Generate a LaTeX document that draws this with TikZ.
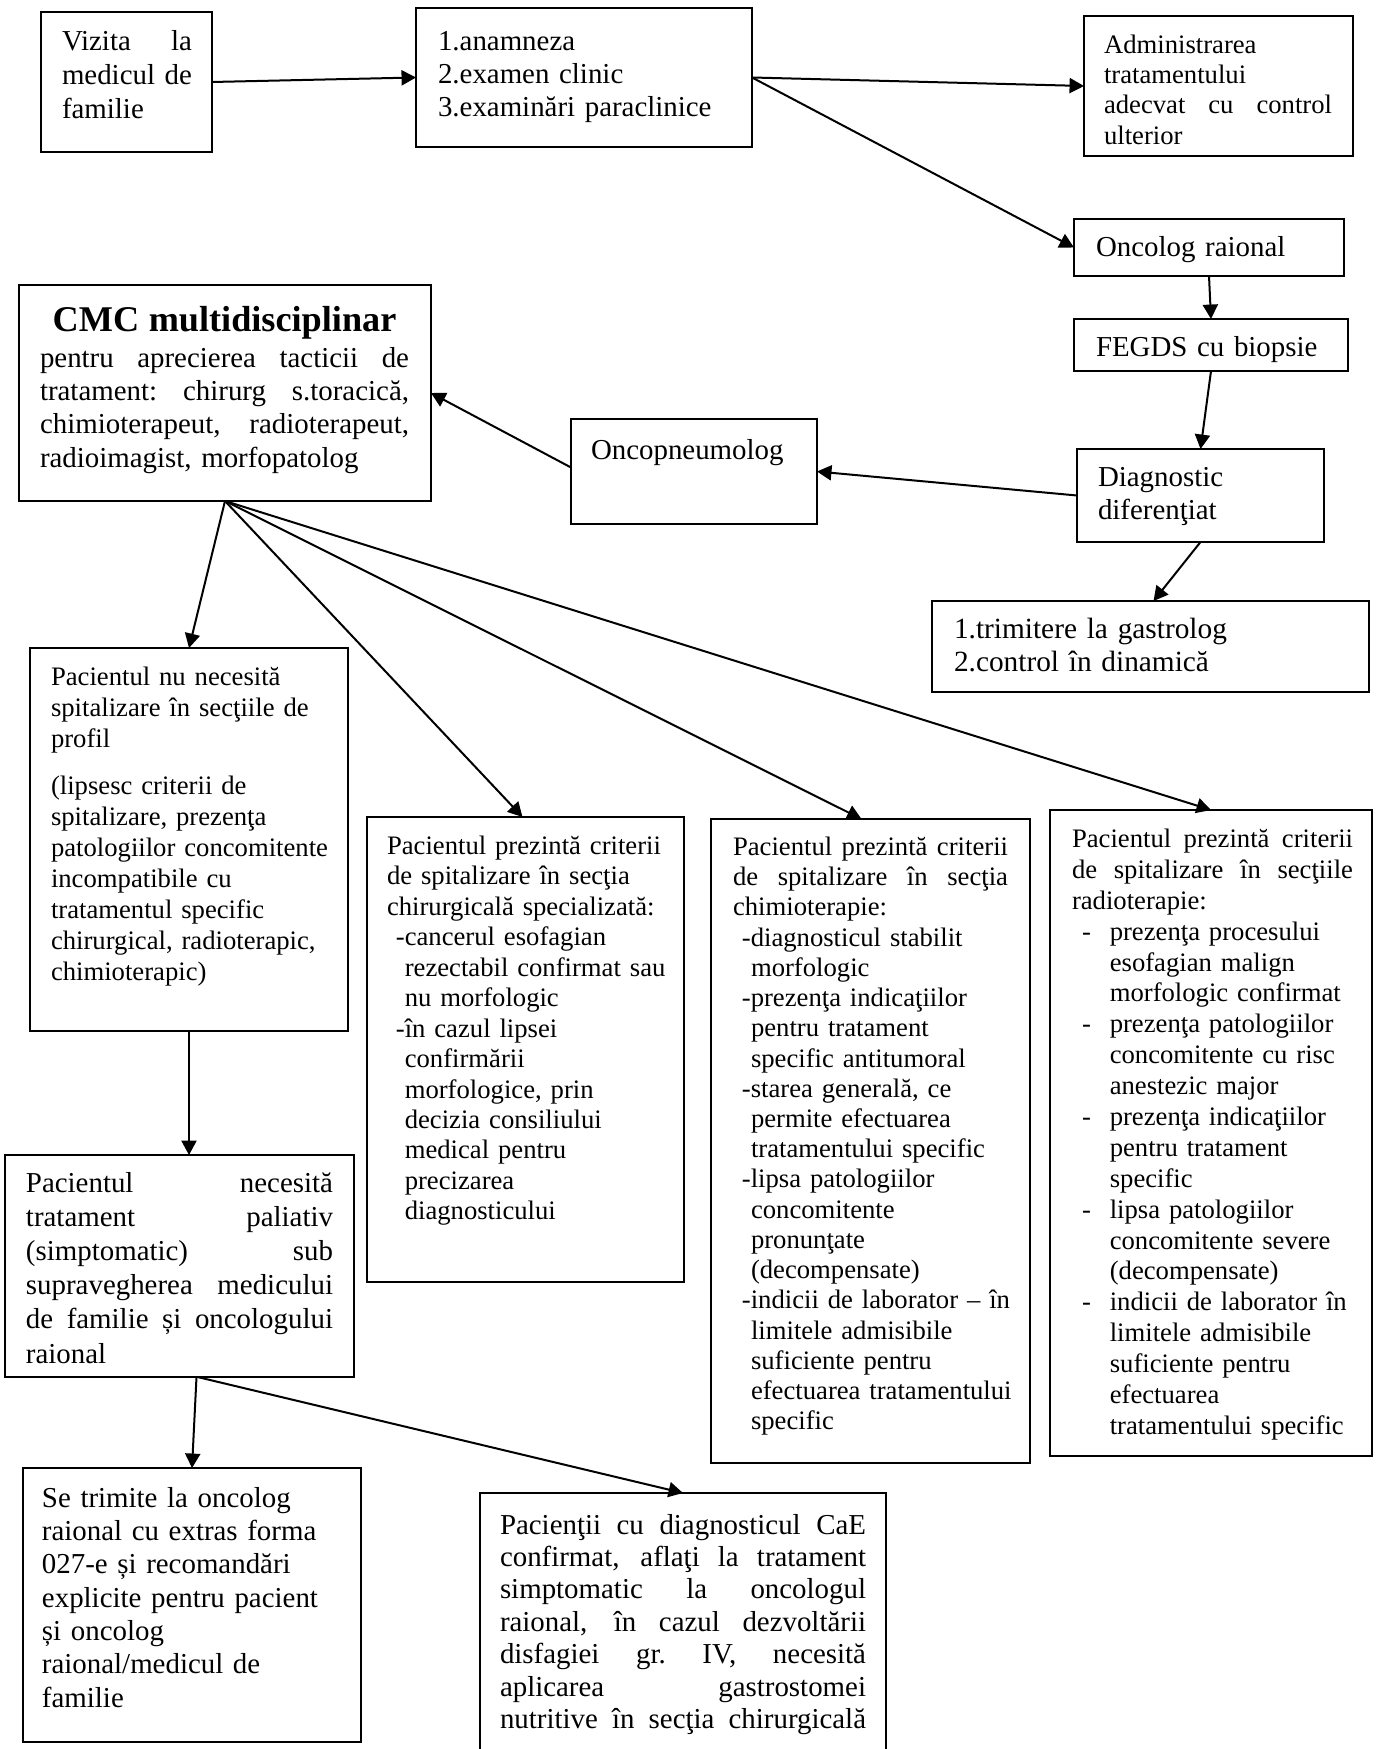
\documentclass[tikz,border=0pt]{standalone}
\usepackage{fontspec}
\setmainfont{Liberation Serif}
\usetikzlibrary{arrows.meta,calc}
\newlength\jw
\newcommand{\jbox}[1]{\leavevmode\hbox to\jw{\spaceskip=\fontdimen2\font plus 1fil\relax\xspaceskip=\spaceskip #1}}
\newcommand{\jl}[1]{\jbox{#1}\\}
\newcommand{\fs}[2]{\fontsize{#1}{#2}\selectfont}
\newcommand{\ritem}[1]{\makebox[17pt][l]{\hspace*{4.5pt}-}#1}
\newcommand{\rcont}[1]{\hspace*{17pt}#1}
\tikzset{
  bx/.style={draw, line width=0.7pt, anchor=north west, inner sep=0pt, outer sep=0pt},
  tx/.style={anchor=north west, inner sep=0pt, outer sep=0pt, align=left, text width=420*0.45pt},
  arr/.style={-{Triangle[length=6.5pt,width=6.8pt]}, line width=0.9pt},
}
\begin{document}
\begin{tikzpicture}[x=0.45pt, y=-0.45pt]
\useasboundingbox (0,0) rectangle (1376,1749);

% ---------- boxes ----------
\node[bx, minimum width=171*0.45pt, minimum height=140*0.45pt] (viz) at (41,12) {};
\node[tx, font=\fs{13}{15.3}] (viz-t) at ($(viz.north west)+(21,18)$)
 {\jw=58.5pt\relax\jl{Vizita la}medicul de\\familie};

\node[bx, minimum width=336*0.45pt, minimum height=139*0.45pt] (ana) at (416,8) {};
\node[tx, font=\fs{13}{14.85}] (ana-t) at ($(ana.north west)+(22,23)$)
 {1.anamneza\\2.examen clinic\\3.examinări paraclinice};

\node[bx, minimum width=269*0.45pt, minimum height=140*0.45pt] (adm) at (1084,16) {};
\node[tx, font=\fs{12}{13.6}] (adm-t) at ($(adm.north west)+(20,19)$)
 {\jw=102.6pt\relax Administrarea\\tratamentului\\\jl{adecvat cu control}ulterior};

\node[bx, minimum width=270*0.45pt, minimum height=57*0.45pt] (onc) at (1074,219) {};
\node[tx, font=\fs{13}{15}] (onc-t) at ($(onc.north west)+(22,17)$) {Oncolog raional};

\node[bx, minimum width=274*0.45pt, minimum height=52*0.45pt] (feg) at (1074,319) {};
\node[tx, font=\fs{13}{15}] (feg-t) at ($(feg.north west)+(22,17)$) {FEGDS cu biopsie};

\node[bx, minimum width=247*0.45pt, minimum height=93*0.45pt] (dia) at (1077,449) {};
\node[tx, font=\fs{13}{14.85}] (dia-t) at ($(dia.north west)+(21,18)$)
 {Diagnostic\\diferenţiat};

\node[bx, minimum width=437*0.45pt, minimum height=91*0.45pt] (tri) at (932,601) {};
\node[tx, font=\fs{13.2}{14.85}] (tri-t) at ($(tri.north west)+(22,17)$)
 {1.trimitere la gastrolog\\2.control în dinamică};

\node[bx, minimum width=246*0.45pt, minimum height=105*0.45pt] (pne) at (571,419) {};
\node[tx, font=\fs{13}{15}] (pne-t) at ($(pne.north west)+(20,20)$) {Oncopneumolog};

\node[bx, minimum width=412*0.45pt, minimum height=216*0.45pt] (cmc) at (19,285) {};
\node[tx, font=\fs{13}{15}] (cmc-t) at ($(cmc.north west)+(21,21)$)
 {\jw=166.05pt\relax
  \makebox[\jw][c]{\fs{16.3}{18}\bfseries CMC multidisciplinar}\\[1.2pt]%
  \jl{pentru aprecierea tacticii de}%
  \jl{tratament: chirurg s.toracică,}%
  \jl{chimioterapeut, radioterapeut,}%
  radioimagist, morfopatolog};

\node[bx, minimum width=318*0.45pt, minimum height=383*0.45pt] (nun) at (30,648) {};
\node[tx, font=\fs{12}{13.95}] (nun-t) at ($(nun.north west)+(21,19)$)
 {Pacientul nu necesită\\
  spitalizare în secţiile de\\
  profil\\[7pt]
  (lipsesc criterii de\\
  spitalizare, prezenţa\\
  patologiilor concomitente\\
  incompatibile cu\\
  tratamentul specific\\
  chirurgical, radioterapic,\\
  chimioterapic)};

\node[bx, minimum width=317*0.45pt, minimum height=465*0.45pt] (chi) at (367,817) {};
\node[tx, font=\fs{12}{13.7}] (chi-t) at ($(chi.north west)+(20,19)$)
 {Pacientul prezintă criterii\\
  de spitalizare în secţia\\
  chirurgicală specializată:\\
  \hspace*{4pt}-cancerul esofagian\\
  \hspace*{8pt}rezectabil confirmat sau\\
  \hspace*{8pt}nu morfologic\\
  \hspace*{4pt}-în cazul lipsei\\
  \hspace*{8pt}confirmării\\
  \hspace*{8pt}morfologice, prin\\
  \hspace*{8pt}decizia consiliului\\
  \hspace*{8pt}medical pentru\\
  \hspace*{8pt}precizarea\\
  \hspace*{8pt}diagnosticului};

\node[bx, minimum width=319*0.45pt, minimum height=644*0.45pt] (chm) at (711,819) {};
\node[tx, font=\fs{12}{13.6}] (chm-t) at ($(chm.north west)+(22,18)$)
 {\jw=123.75pt\relax
  \jl{Pacientul prezintă criterii}%
  \jl{de spitalizare în secţia}%
  chimioterapie:\\
  \hspace*{4pt}-diagnosticul stabilit\\
  \hspace*{8.1pt}morfologic\\
  \hspace*{4pt}-prezenţa indicaţiilor\\
  \hspace*{8.1pt}pentru tratament\\
  \hspace*{8.1pt}specific antitumoral\\
  \hspace*{4pt}-starea generală, ce\\
  \hspace*{8.1pt}permite efectuarea\\
  \hspace*{8.1pt}tratamentului specific\\
  \hspace*{4pt}-lipsa patologiilor\\
  \hspace*{8.1pt}concomitente\\
  \hspace*{8.1pt}pronunţate\\
  \hspace*{8.1pt}(decompensate)\\
  \hspace*{4pt}-indicii de laborator – în\\
  \hspace*{8.1pt}limitele admisibile\\
  \hspace*{8.1pt}suficiente pentru\\
  \hspace*{8.1pt}efectuarea tratamentului\\
  \hspace*{8.1pt}specific};

\node[bx, minimum width=322*0.45pt, minimum height=646*0.45pt] (rad) at (1050,810) {};
\node[tx, font=\fs{12}{13.9}] (rad-t) at ($(rad.north west)+(22,19)$)
 {\jw=126.45pt\relax
  \jl{Pacientul prezintă criterii}%
  \jl{de spitalizare în secţiile}%
  radioterapie:\\
  \ritem{prezenţa procesului}\\
  \rcont{esofagian malign}\\
  \rcont{morfologic confirmat}\\
  \ritem{prezenţa patologiilor}\\
  \rcont{concomitente cu risc}\\
  \rcont{anestezic major}\\
  \ritem{prezenţa indicaţiilor}\\
  \rcont{pentru tratament}\\
  \rcont{specific}\\
  \ritem{lipsa patologiilor}\\
  \rcont{concomitente severe}\\
  \rcont{(decompensate)}\\
  \ritem{indicii de laborator în}\\
  \rcont{limitele admisibile}\\
  \rcont{suficiente pentru}\\
  \rcont{efectuarea}\\
  \rcont{tratamentului specific}};

\node[bx, minimum width=349*0.45pt, minimum height=222*0.45pt] (pal) at (5,1155) {};
\node[tx, font=\fs{13}{15.4}] (pal-t) at ($(pal.north west)+(21,17)$)
 {\jw=138.15pt\relax
  \jl{Pacientul necesită}%
  \jl{tratament paliativ}%
  \jl{(simptomatic) sub}%
  \jl{supravegherea medicului}%
  \jl{de familie și oncologului}%
  raional};

\node[bx, minimum width=338*0.45pt, minimum height=274*0.45pt] (set) at (23,1468) {};
\node[tx, font=\fs{13}{15}] (set-t) at ($(set.north west)+(19,19)$)
 {Se trimite la oncolog\\
  raional cu extras forma\\
  027-e și recomandări\\
  explicite pentru pacient\\
  și oncolog\\
  raional/medicul de\\
  familie};

\node[bx, minimum width=406*0.45pt, minimum height=320*0.45pt] (cae) at (480,1493) {};
\node[tx, font=\fs{13}{14.6}] (cae-t) at ($(cae.north west)+(20,21)$)
 {\jw=164.7pt\relax
  \jl{Pacienţii cu diagnosticul CaE}%
  \jl{confirmat, aflaţi la tratament}%
  \jl{simptomatic la oncologul}%
  \jl{raional, în cazul dezvoltării}%
  \jl{disfagiei gr. IV, necesită}%
  \jl{aplicarea gastrostomei}%
  \jbox{nutritive în secţia chirurgicală}};

% ---------- connectors ----------
\draw[arr] (viz.east) -- (ana.west);
\draw[arr] (ana.east) -- (adm.west);
\draw[arr] (ana.east) -- (onc.west);
\draw[arr] (onc.south) -- (feg.north);
\draw[arr] (feg.south) -- (dia.north);
\draw[arr] (dia.west) -- (pne.east);
\draw[arr] ($(pne.west)+(0,-4)$) -- (cmc.east);
\draw[arr] (dia.south) -- ($(tri.north)+(3,0)$);
\draw[arr] (cmc.south) -- (nun.north);
\draw[arr] (cmc.south) -- ($(chi.north)+(-3,0)$);
\draw[arr] (cmc.south) -- ($(chm.north)+(-9,0)$);
\draw[arr] (cmc.south) -- (rad.north);
\draw[arr] (nun.south) -- (nun.south |- pal.north);
\draw[arr] ($(pal.south)+(17,0)$) -- (set.north);
\draw[arr] ($(pal.south)+(18,0)$) -- (cae.north);
\end{tikzpicture}
\end{document}
